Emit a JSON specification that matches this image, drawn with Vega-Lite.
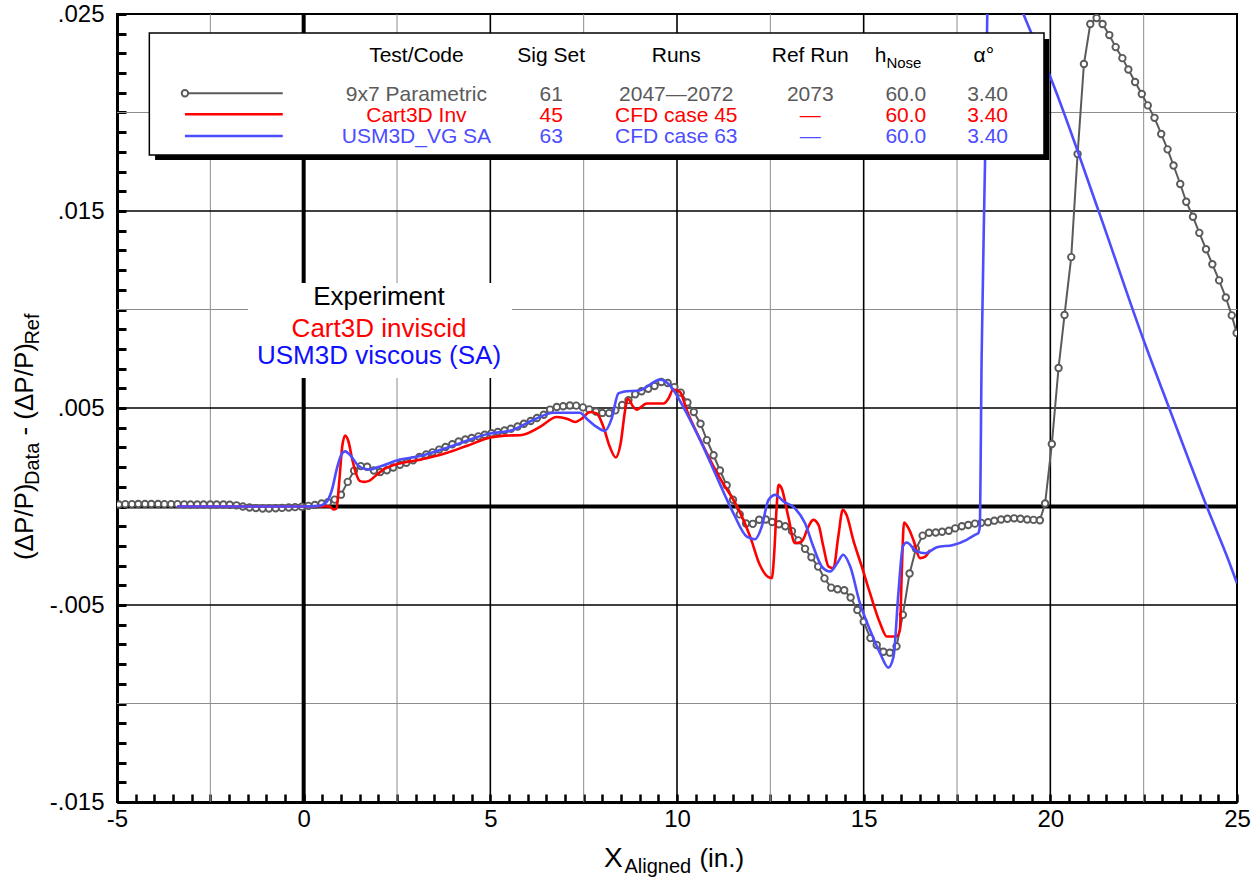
{
  "$schema": "https://vega.github.io/schema/vega-lite/v6.json",
  "width": 1120,
  "height": 788,
  "autosize": {"type": "none"},
  "padding": {"left": 117, "top": 14, "right": 23, "bottom": 75},
  "background": "white",
  "config": {
    "view": {"stroke": "black", "strokeWidth": 2},
    "font": "Liberation Sans",
    "text": {"font": "Liberation Sans"}
  },
  "datasets": {
    "one": [{}],
    "exp": [
      {"x":-4.95,"y":0.0001},{"x":-4.78,"y":0.00012},{"x":-4.6,"y":0.00012},{"x":-4.43,"y":0.00013},{"x":-4.25,"y":0.00013},{"x":-4.08,"y":0.00013},{"x":-3.9,"y":0.00013},{"x":-3.73,"y":0.00012},{"x":-3.55,"y":0.00012},{"x":-3.38,"y":0.00012},{"x":-3.2,"y":0.00011},{"x":-3.03,"y":0.0001},{"x":-2.85,"y":0.0001},{"x":-2.68,"y":0.0001},{"x":-2.5,"y":0.0001},{"x":-2.33,"y":0.0001},{"x":-2.15,"y":0.0001},{"x":-1.98,"y":0.00009},{"x":-1.8,"y":0.00006},{"x":-1.63,"y":0.0},{"x":-1.45,"y":-0.00005},{"x":-1.28,"y":-0.00008},{"x":-1.1,"y":-0.0001},{"x":-0.93,"y":-0.0001},{"x":-0.75,"y":-0.00009},{"x":-0.58,"y":-0.00007},{"x":-0.4,"y":-0.00005},{"x":-0.23,"y":-0.00003},{"x":-0.05,"y":-0.00001},{"x":0.13,"y":0.00003},{"x":0.3,"y":0.00008},{"x":0.48,"y":0.00015},{"x":0.65,"y":0.00022},{"x":0.83,"y":0.00035},{"x":1.0,"y":0.0006},{"x":1.18,"y":0.00125},{"x":1.35,"y":0.00182},{"x":1.53,"y":0.00205},{"x":1.7,"y":0.00202},{"x":1.88,"y":0.00183},{"x":2.05,"y":0.00175},{"x":2.23,"y":0.00184},{"x":2.4,"y":0.00198},{"x":2.58,"y":0.00212},{"x":2.75,"y":0.00222},{"x":2.93,"y":0.00235},{"x":3.1,"y":0.00251},{"x":3.28,"y":0.00264},{"x":3.45,"y":0.00275},{"x":3.63,"y":0.00289},{"x":3.8,"y":0.00302},{"x":3.98,"y":0.00316},{"x":4.15,"y":0.0033},{"x":4.33,"y":0.0034},{"x":4.5,"y":0.00348},{"x":4.68,"y":0.00356},{"x":4.85,"y":0.00364},{"x":5.03,"y":0.00372},{"x":5.2,"y":0.00378},{"x":5.38,"y":0.00386},{"x":5.55,"y":0.00395},{"x":5.73,"y":0.00406},{"x":5.9,"y":0.0042},{"x":6.08,"y":0.00434},{"x":6.25,"y":0.00449},{"x":6.43,"y":0.00466},{"x":6.6,"y":0.00492},{"x":6.78,"y":0.00505},{"x":6.95,"y":0.00509},{"x":7.13,"y":0.00513},{"x":7.3,"y":0.00512},{"x":7.48,"y":0.00503},{"x":7.65,"y":0.00493},{"x":7.83,"y":0.00482},{"x":8.0,"y":0.00475},{"x":8.18,"y":0.00474},{"x":8.35,"y":0.00488},{"x":8.53,"y":0.00515},{"x":8.7,"y":0.0054},{"x":8.88,"y":0.0057},{"x":9.05,"y":0.00585},{"x":9.23,"y":0.00598},{"x":9.4,"y":0.00612},{"x":9.58,"y":0.00632},{"x":9.75,"y":0.00627},{"x":9.93,"y":0.00606},{"x":10.1,"y":0.00578},{"x":10.28,"y":0.00528},{"x":10.45,"y":0.0048},{"x":10.63,"y":0.0042},{"x":10.8,"y":0.00337},{"x":10.98,"y":0.0026},{"x":11.15,"y":0.00183},{"x":11.33,"y":0.00108},{"x":11.5,"y":0.00034},{"x":11.68,"y":-0.0004},{"x":11.85,"y":-0.00086},{"x":12.03,"y":-0.00088},{"x":12.2,"y":-0.00067},{"x":12.38,"y":-0.00066},{"x":12.55,"y":-0.00079},{"x":12.73,"y":-0.0009},{"x":12.9,"y":-0.001},{"x":13.08,"y":-0.00125},{"x":13.25,"y":-0.00172},{"x":13.43,"y":-0.00215},{"x":13.6,"y":-0.00258},{"x":13.78,"y":-0.00305},{"x":13.95,"y":-0.00365},{"x":14.13,"y":-0.00412},{"x":14.3,"y":-0.0042},{"x":14.48,"y":-0.00425},{"x":14.65,"y":-0.00462},{"x":14.83,"y":-0.00525},{"x":15.0,"y":-0.00585},{"x":15.18,"y":-0.00668},{"x":15.35,"y":-0.00703},{"x":15.53,"y":-0.00737},{"x":15.7,"y":-0.00742},{"x":15.88,"y":-0.0071},{"x":16.05,"y":-0.0055},{"x":16.23,"y":-0.0034},{"x":16.4,"y":-0.00215},{"x":16.58,"y":-0.00148},{"x":16.75,"y":-0.00133},{"x":16.93,"y":-0.00132},{"x":17.1,"y":-0.00128},{"x":17.28,"y":-0.00123},{"x":17.45,"y":-0.00111},{"x":17.63,"y":-0.001},{"x":17.8,"y":-0.00094},{"x":17.98,"y":-0.00087},{"x":18.15,"y":-0.00083},{"x":18.33,"y":-0.0008},{"x":18.5,"y":-0.00072},{"x":18.68,"y":-0.00066},{"x":18.85,"y":-0.00062},{"x":19.03,"y":-0.0006},{"x":19.2,"y":-0.00062},{"x":19.38,"y":-0.00066},{"x":19.55,"y":-0.00068},{"x":19.72,"y":-0.0007},{"x":19.86,"y":0.00015},{"x":20.04,"y":0.00317},{"x":20.22,"y":0.00703},{"x":20.38,"y":0.00972},{"x":20.56,"y":0.01266},{"x":20.73,"y":0.01789},{"x":20.9,"y":0.02246},{"x":21.07,"y":0.02449},{"x":21.24,"y":0.0248},{"x":21.4,"y":0.02449},{"x":21.58,"y":0.02393},{"x":21.75,"y":0.02332},{"x":21.93,"y":0.02276},{"x":22.09,"y":0.02218},{"x":22.27,"y":0.02155},{"x":22.45,"y":0.02094},{"x":22.61,"y":0.02036},{"x":22.79,"y":0.01973},{"x":22.97,"y":0.01891},{"x":23.14,"y":0.01813},{"x":23.3,"y":0.01731},{"x":23.48,"y":0.01637},{"x":23.64,"y":0.01547},{"x":23.82,"y":0.01471},{"x":23.99,"y":0.01389},{"x":24.17,"y":0.01306},{"x":24.34,"y":0.0123},{"x":24.52,"y":0.01148},{"x":24.7,"y":0.01061},{"x":24.86,"y":0.0097},{"x":24.99,"y":0.00881}
    ],
    "cart3d": [
      {"x":-3.38,"y":0},{"x":-2,"y":0},{"x":-1,"y":0},{"x":0,"y":0},{"x":0.5,"y":0.00002},{"x":0.7,"y":0},{"x":0.8,"y":-0.00015},{"x":0.88,"y":-0.0001},{"x":0.95,"y":0.0012},{"x":1.03,"y":0.003},{"x":1.11,"y":0.0036},{"x":1.2,"y":0.0033},{"x":1.3,"y":0.0024},{"x":1.4,"y":0.0017},{"x":1.5,"y":0.0013},{"x":1.62,"y":0.00125},{"x":1.75,"y":0.0013},{"x":1.95,"y":0.0016},{"x":2.15,"y":0.0019},{"x":2.4,"y":0.0021},{"x":2.6,"y":0.0022},{"x":3.1,"y":0.00237},{"x":3.8,"y":0.0027},{"x":4.4,"y":0.0031},{"x":5.0,"y":0.0035},{"x":5.4,"y":0.0036},{"x":5.8,"y":0.00362},{"x":6.33,"y":0.00404},{"x":6.78,"y":0.00454},{"x":7.05,"y":0.00446},{"x":7.27,"y":0.00429},{"x":7.45,"y":0.00446},{"x":7.67,"y":0.0048},{"x":7.85,"y":0.00472},{"x":8.03,"y":0.00404},{"x":8.2,"y":0.00303},{"x":8.36,"y":0.00249},{"x":8.49,"y":0.0032},{"x":8.61,"y":0.00489},{"x":8.68,"y":0.00548},{"x":8.83,"y":0.00506},{"x":8.92,"y":0.00492},{"x":9.19,"y":0.00523},{"x":9.64,"y":0.00523},{"x":9.77,"y":0.00548},{"x":9.9,"y":0.00594},{"x":10.08,"y":0.00582},{"x":10.26,"y":0.00489},{"x":10.62,"y":0.0034},{"x":11.1,"y":0.0016},{"x":11.68,"y":-0.00026},{"x":11.96,"y":-0.00153},{"x":12.22,"y":-0.00297},{"x":12.45,"y":-0.00359},{"x":12.54,"y":-0.00364},{"x":12.6,"y":-0.0025},{"x":12.67,"y":0.0},{"x":12.72,"y":0.0011},{"x":12.8,"y":0.00093},{"x":12.98,"y":-0.00051},{"x":13.16,"y":-0.00186},{"x":13.34,"y":-0.00178},{"x":13.52,"y":-0.00102},{"x":13.65,"y":-0.00068},{"x":13.79,"y":-0.00093},{"x":13.92,"y":-0.00203},{"x":14.06,"y":-0.00305},{"x":14.19,"y":-0.00313},{"x":14.32,"y":-0.00153},{"x":14.44,"y":-0.00017},{"x":14.54,"y":-0.00042},{"x":14.72,"y":-0.00169},{"x":14.95,"y":-0.00305},{"x":15.17,"y":-0.0044},{"x":15.44,"y":-0.00593},{"x":15.62,"y":-0.0066},{"x":15.88,"y":-0.0066},{"x":15.97,"y":-0.00627},{"x":16.02,"y":-0.00339},{"x":16.08,"y":-0.00082},{"x":16.2,"y":-0.0011},{"x":16.33,"y":-0.00169},{"x":16.51,"y":-0.00262},{"x":16.65,"y":-0.00254},{"x":16.78,"y":-0.0022}
    ],
    "usm3d": [
      {"x":-3.39,"y":0},{"x":-2,"y":0},{"x":-1,"y":0},{"x":0,"y":0},{"x":0.4,"y":0.00003},{"x":0.6,"y":0.0002},{"x":0.75,"y":0.0008},{"x":0.9,"y":0.002},{"x":1.0,"y":0.0026},{"x":1.11,"y":0.0028},{"x":1.25,"y":0.0026},{"x":1.45,"y":0.0021},{"x":1.65,"y":0.0019},{"x":1.78,"y":0.00188},{"x":2.0,"y":0.002},{"x":2.58,"y":0.00238},{"x":3.12,"y":0.00256},{"x":3.92,"y":0.00303},{"x":4.99,"y":0.00371},{"x":5.53,"y":0.00384},{"x":6.15,"y":0.00439},{"x":6.69,"y":0.00476},{"x":7.4,"y":0.00476},{"x":7.58,"y":0.00446},{"x":7.85,"y":0.00404},{"x":8.07,"y":0.00384},{"x":8.25,"y":0.00446},{"x":8.43,"y":0.00574},{"x":8.56,"y":0.00582},{"x":9.01,"y":0.0059},{"x":9.55,"y":0.00644},{"x":9.81,"y":0.00615},{"x":10.17,"y":0.00505},{"x":10.62,"y":0.00337},{"x":11.07,"y":0.00148},{"x":11.51,"y":-0.00034},{"x":11.87,"y":-0.00153},{"x":12.09,"y":-0.00166},{"x":12.27,"y":-0.00102},{"x":12.45,"y":0.00033},{"x":12.63,"y":0.00059},{"x":12.86,"y":0.00025},{"x":13.16,"y":-0.00009},{"x":13.43,"y":-0.00085},{"x":13.65,"y":-0.00203},{"x":13.88,"y":-0.00305},{"x":14.1,"y":-0.0033},{"x":14.32,"y":-0.00279},{"x":14.45,"y":-0.00245},{"x":14.64,"y":-0.00305},{"x":14.9,"y":-0.00491},{"x":15.17,"y":-0.00627},{"x":15.44,"y":-0.00745},{"x":15.66,"y":-0.00818},{"x":15.8,"y":-0.00762},{"x":15.93,"y":-0.0044},{"x":16.05,"y":-0.00203},{"x":16.15,"y":-0.00183},{"x":16.42,"y":-0.00228},{"x":16.65,"y":-0.00237},{"x":16.96,"y":-0.00207},{"x":17.4,"y":-0.00195},{"x":17.76,"y":-0.00169},{"x":17.98,"y":-0.00144},{"x":18.07,"y":-0.00135},{"x":18.11,"y":-0.00102},{"x":18.16,"y":0.0076},{"x":18.25,"y":0.0174},{"x":18.31,"y":0.0248},{"x":18.4,"y":0.0285},{"x":18.7,"y":0.029},{"x":19.0,"y":0.0264},{"x":19.28,"y":0.025},{"x":20.0,"y":0.0218},{"x":21.29,"y":0.01502},{"x":22.49,"y":0.00849},{"x":23.21,"y":0.00486},{"x":24.19,"y":0.0},{"x":24.77,"y":-0.00272},{"x":25.0,"y":-0.0039}
    ],
    "legendText": [
      {"x":3.02,"y":0.022563,"t":"Test/Code","s":"h"},
      {"x":6.63,"y":0.022563,"t":"Sig Set","s":"h"},
      {"x":9.98,"y":0.022563,"t":"Runs","s":"h"},
      {"x":13.57,"y":0.022563,"t":"Ref Run","s":"h"},
      {"x":18.22,"y":0.022563,"t":"α°","s":"h"},
      {"x":3.02,"y":0.020584,"t":"9x7 Parametric","s":"e"},
      {"x":6.63,"y":0.020584,"t":"61","s":"e"},
      {"x":9.98,"y":0.020584,"t":"2047—2072","s":"e"},
      {"x":13.57,"y":0.020584,"t":"2073","s":"e"},
      {"x":16.13,"y":0.020584,"t":"60.0","s":"e"},
      {"x":18.32,"y":0.020584,"t":"3.40","s":"e"},
      {"x":3.02,"y":0.019518,"t":"Cart3D Inv","s":"c"},
      {"x":6.63,"y":0.019518,"t":"45","s":"c"},
      {"x":9.98,"y":0.019518,"t":"CFD case 45","s":"c"},
      {"x":13.57,"y":0.019518,"t":"—","s":"c"},
      {"x":16.13,"y":0.019518,"t":"60.0","s":"c"},
      {"x":18.32,"y":0.019518,"t":"3.40","s":"c"},
      {"x":3.02,"y":0.018452,"t":"USM3D_VG SA","s":"u"},
      {"x":6.63,"y":0.018452,"t":"63","s":"u"},
      {"x":9.98,"y":0.018452,"t":"CFD case 63","s":"u"},
      {"x":13.57,"y":0.018452,"t":"—","s":"u"},
      {"x":16.13,"y":0.018452,"t":"60.0","s":"u"},
      {"x":18.32,"y":0.018452,"t":"3.40","s":"u"}
    ]
  },
  "layer": [
    {
      "data": {"name": "exp"},
      "mark": {"type": "line", "opacity": 0},
      "encoding": {
        "x": {"field": "x", "type": "quantitative", "title": null, "scale": {"domain": [-5, 25], "nice": false, "zero": false},
          "axis": {
            "values": [-5,-4.5,-4,-3.5,-3,-2.5,-2,-1.5,-1,-0.5,0,0.5,1,1.5,2,2.5,3,3.5,4,4.5,5,5.5,6,6.5,7,7.5,8,8.5,9,9.5,10,10.5,11,11.5,12,12.5,13,13.5,14,14.5,15,15.5,16,16.5,17,17.5,18,18.5,19,19.5,20,20.5,21,21.5,22,22.5,23,23.5,24,24.5,25],
            "tickCount": 1000,
            "labelExpr": "datum.value % 5 == 0 ? (datum.value < 0 ? '-' : '') + format(abs(datum.value), 'd') : ''",
            "tickSize": -8, "tickWidth": 2.5, "tickColor": "black",
            "domainColor": "black", "domainWidth": 3,
            "grid": false, "labelFontSize": 24, "labelFont": "Liberation Sans", "labelColor": "black",
            "labelPadding": 13, "labelFlush": false, "labelOverlap": false, "labelBound": false, "title": null
          }},
        "y": {"field": "y", "type": "quantitative", "title": null, "scale": {"domain": [-0.015, 0.025], "nice": false, "zero": false},
          "axis": {
            "values": [-0.015,-0.014,-0.013,-0.012,-0.011,-0.01,-0.009,-0.008,-0.007,-0.006,-0.005,-0.004,-0.003,-0.002,-0.001,0,0.001,0.002,0.003,0.004,0.005,0.006,0.007,0.008,0.009,0.01,0.011,0.012,0.013,0.014,0.015,0.016,0.017,0.018,0.019,0.02,0.021,0.022,0.023,0.024,0.025],
            "tickCount": 1000,
            "labelExpr": "(round(datum.value*1000)+15) % 10 == 0 ? (datum.value < 0 ? '-' : '') + replace(format(abs(datum.value), '.3f'), '0.', '.') : ''",
            "tickSize": -9, "tickWidth": 3, "tickColor": "black",
            "domainColor": "black", "domainWidth": 3,
            "grid": false, "labelFontSize": 24, "labelFont": "Liberation Sans", "labelColor": "black",
            "labelPadding": 22, "labelFlush": false, "labelOverlap": false, "labelBound": false, "title": null
          }}
      }
    },
    {
      "data": {"values": [{"v":-2.5},{"v":2.5},{"v":7.5},{"v":12.5},{"v":17.5},{"v":22.5}]},
      "mark": {"type": "rule", "color": "#8c8c8c", "strokeWidth": 1},
      "encoding": {"x": {"field": "v", "type": "quantitative", "title": null}}
    },
    {
      "data": {"values": [{"v":0.02},{"v":0.01},{"v":-0.01}]},
      "mark": {"type": "rule", "color": "#8c8c8c", "strokeWidth": 1},
      "encoding": {"y": {"field": "v", "type": "quantitative", "title": null}}
    },
    {
      "data": {"values": [{"v":5},{"v":10},{"v":15},{"v":20}]},
      "mark": {"type": "rule", "color": "black", "strokeWidth": 1.6},
      "encoding": {"x": {"field": "v", "type": "quantitative", "title": null}}
    },
    {
      "data": {"values": [{"v":0.015},{"v":0.005},{"v":-0.005}]},
      "mark": {"type": "rule", "color": "black", "strokeWidth": 1.6},
      "encoding": {"y": {"field": "v", "type": "quantitative", "title": null}}
    },
    {
      "data": {"values": [{"v":0}]},
      "mark": {"type": "rule", "color": "black", "strokeWidth": 4},
      "encoding": {"x": {"field": "v", "type": "quantitative", "title": null}}
    },
    {
      "data": {"values": [{"v":0}]},
      "mark": {"type": "rule", "color": "black", "strokeWidth": 4},
      "encoding": {"y": {"field": "v", "type": "quantitative", "title": null}}
    },
    {
      "data": {"name": "one"},
      "mark": {"type": "rect", "fill": "white"},
      "encoding": {"x": {"datum": -1.49}, "x2": {"datum": 5.58}, "y": {"datum": 0.011345}, "y2": {"datum": 0.006523}}
    },
    {
      "data": {"name": "exp"},
      "mark": {"type": "line", "color": "#5a5a5a", "strokeWidth": 2, "clip": true},
      "encoding": {"x": {"field": "x", "type": "quantitative", "title": null}, "y": {"field": "y", "type": "quantitative", "title": null}}
    },
    {
      "data": {"name": "exp"},
      "mark": {"type": "point", "shape": "circle", "filled": true, "fill": "white", "stroke": "#5a5a5a", "strokeWidth": 1.9, "size": 42, "opacity": 1, "clip": true},
      "encoding": {"x": {"field": "x", "type": "quantitative", "title": null}, "y": {"field": "y", "type": "quantitative", "title": null}}
    },
    {
      "data": {"name": "cart3d"},
      "mark": {"type": "line", "color": "#ff0000", "strokeWidth": 2.6, "interpolate": "monotone", "clip": true},
      "encoding": {"x": {"field": "x", "type": "quantitative", "title": null}, "y": {"field": "y", "type": "quantitative", "title": null}}
    },
    {
      "data": {"name": "usm3d"},
      "mark": {"type": "line", "color": "#4d4dff", "strokeWidth": 2.6, "interpolate": "monotone", "clip": true},
      "encoding": {"x": {"field": "x", "type": "quantitative", "title": null}, "y": {"field": "y", "type": "quantitative", "title": null}}
    },
    {
      "data": {"name": "one"},
      "mark": {"type": "rect", "fill": "black"},
      "encoding": {"x": {"datum": -3.98}, "x2": {"datum": 19.97}, "y": {"datum": 0.02373}, "y2": {"datum": 0.017589}}
    },
    {
      "data": {"name": "one"},
      "mark": {"type": "rect", "fill": "white", "stroke": "black", "strokeWidth": 1.5},
      "encoding": {"x": {"datum": -4.134}, "x2": {"datum": 19.83}, "y": {"datum": 0.024036}, "y2": {"datum": 0.017843}}
    },
    {
      "data": {"name": "one"},
      "mark": {"type": "rule", "color": "#5a5a5a", "strokeWidth": 2},
      "encoding": {"x": {"datum": -3.18}, "x2": {"datum": -0.56}, "y": {"datum": 0.020975}}
    },
    {
      "data": {"name": "one"},
      "mark": {"type": "point", "shape": "circle", "filled": true, "fill": "white", "stroke": "#5a5a5a", "strokeWidth": 1.9, "size": 42, "opacity": 1},
      "encoding": {"x": {"datum": -3.18}, "y": {"datum": 0.020975}}
    },
    {
      "data": {"name": "one"},
      "mark": {"type": "rule", "color": "#ff0000", "strokeWidth": 2.6},
      "encoding": {"x": {"datum": -3.18}, "x2": {"datum": -0.56}, "y": {"datum": 0.019909}}
    },
    {
      "data": {"name": "one"},
      "mark": {"type": "rule", "color": "#4d4dff", "strokeWidth": 2.6},
      "encoding": {"x": {"datum": -3.18}, "x2": {"datum": -0.56}, "y": {"datum": 0.018807}}
    },
    {
      "data": {"name": "legendText"},
      "mark": {"type": "text", "fontSize": 21, "align": "center", "baseline": "alphabetic", "font": "Liberation Sans"},
      "encoding": {
        "x": {"field": "x", "type": "quantitative", "title": null},
        "y": {"field": "y", "type": "quantitative", "title": null},
        "text": {"field": "t"},
        "color": {"field": "s", "type": "nominal", "scale": {"domain": ["h","e","c","u"], "range": ["black","#5a5a5a","#ff0000","#4d4dff"]}, "legend": null}
      }
    },
    {
      "data": {"name": "one"},
      "mark": {"type": "text", "text": "h", "fontSize": 21, "align": "left", "baseline": "alphabetic", "color": "black"},
      "encoding": {"x": {"datum": 15.3}, "y": {"datum": 0.022563}}
    },
    {
      "data": {"name": "one"},
      "mark": {"type": "text", "text": "Nose", "fontSize": 15, "align": "left", "baseline": "alphabetic", "color": "black"},
      "encoding": {"x": {"datum": 15.61}, "y": {"datum": 0.022284}}
    },
    {
      "data": {"name": "one"},
      "mark": {"type": "text", "text": "Experiment", "fontSize": 26, "align": "center", "baseline": "alphabetic", "color": "black"},
      "encoding": {"x": {"datum": 2.018}, "y": {"datum": 0.010228}}
    },
    {
      "data": {"name": "one"},
      "mark": {"type": "text", "text": "Cart3D inviscid", "fontSize": 26, "align": "center", "baseline": "alphabetic", "color": "#ff0000"},
      "encoding": {"x": {"datum": 2.018}, "y": {"datum": 0.008629}}
    },
    {
      "data": {"name": "one"},
      "mark": {"type": "text", "text": "USM3D viscous (SA)", "fontSize": 26, "align": "center", "baseline": "alphabetic", "color": "#1010ff"},
      "encoding": {"x": {"datum": 2.018}, "y": {"datum": 0.007234}}
    },
    {
      "data": {"name": "one"},
      "mark": {"type": "text", "text": "X", "fontSize": 28, "align": "left", "baseline": "alphabetic", "color": "black"},
      "encoding": {"x": {"datum": 8.045}, "y": {"datum": -0.0183}}
    },
    {
      "data": {"name": "one"},
      "mark": {"type": "text", "text": "Aligned", "fontSize": 20, "align": "left", "baseline": "alphabetic", "color": "black"},
      "encoding": {"x": {"datum": 8.594}, "y": {"datum": -0.0186}}
    },
    {
      "data": {"name": "one"},
      "mark": {"type": "text", "text": "(in.)", "fontSize": 26, "align": "left", "baseline": "alphabetic", "color": "black"},
      "encoding": {"x": {"datum": 10.6}, "y": {"datum": -0.0183}}
    },
    {
      "data": {"name": "one"},
      "mark": {"type": "text", "text": "(ΔP/P)", "fontSize": 26, "angle": 270, "align": "left", "baseline": "alphabetic", "color": "black"},
      "encoding": {"x": {"datum": -7.25}, "y": {"datum": -0.00272}}
    },
    {
      "data": {"name": "one"},
      "mark": {"type": "text", "text": "Data", "fontSize": 20, "angle": 270, "align": "left", "baseline": "alphabetic", "color": "black"},
      "encoding": {"x": {"datum": -7.089}, "y": {"datum": 0.001093}}
    },
    {
      "data": {"name": "one"},
      "mark": {"type": "text", "text": "- (ΔP/P)", "fontSize": 26, "angle": 270, "align": "left", "baseline": "alphabetic", "color": "black"},
      "encoding": {"x": {"datum": -7.25}, "y": {"datum": 0.0036}}
    },
    {
      "data": {"name": "one"},
      "mark": {"type": "text", "text": "Ref", "fontSize": 20, "angle": 270, "align": "left", "baseline": "alphabetic", "color": "black"},
      "encoding": {"x": {"datum": -7.089}, "y": {"datum": 0.008219}}
    }
  ]
}
